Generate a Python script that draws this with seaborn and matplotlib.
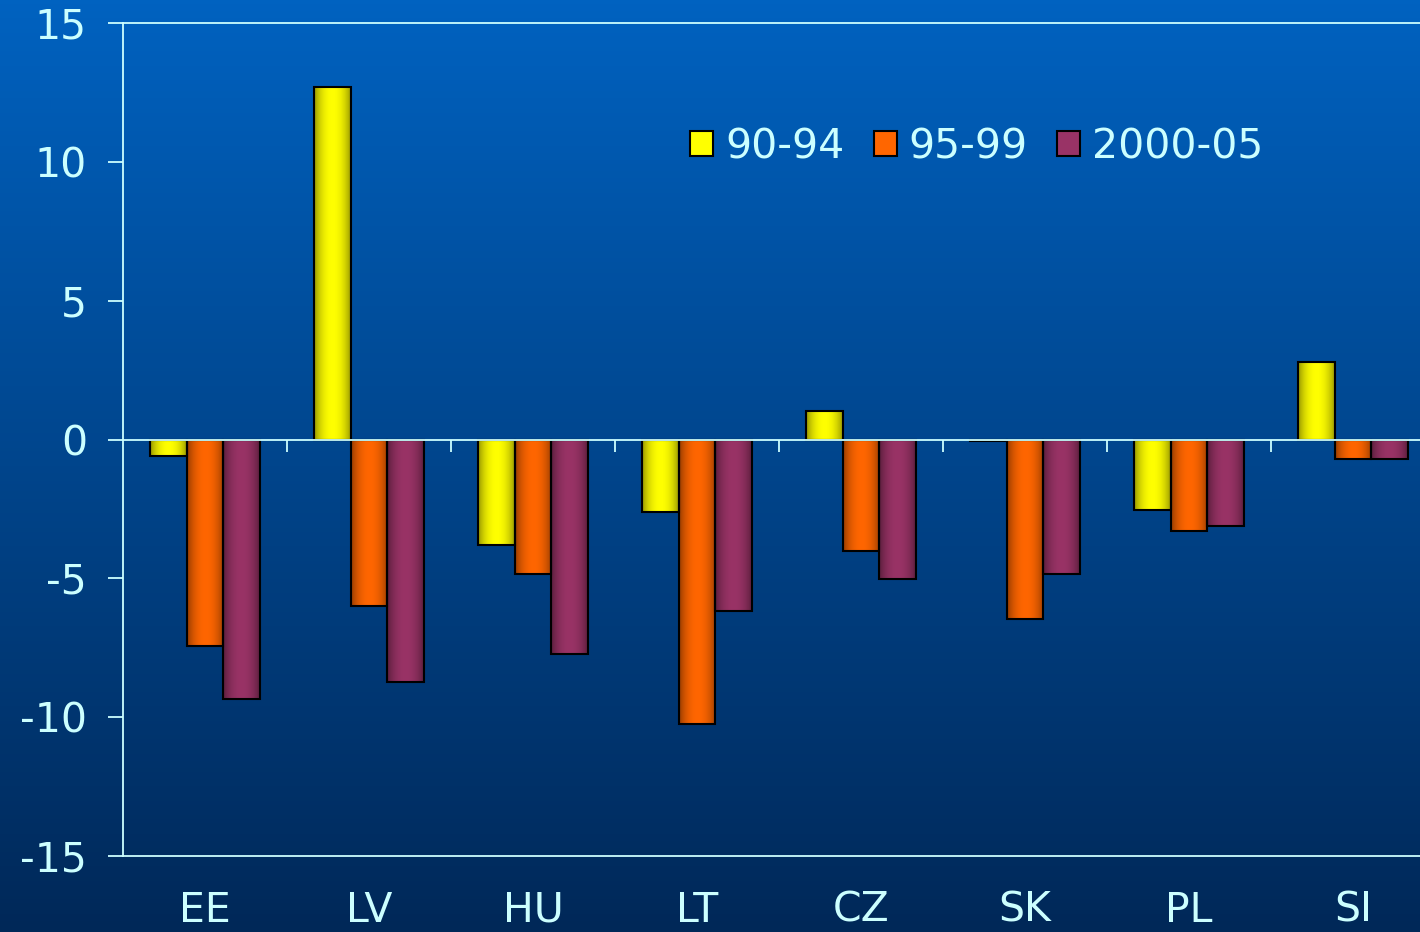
import numpy as np
import pandas as pd
import matplotlib
matplotlib.use("Agg")
import matplotlib.pyplot as plt
import seaborn as sns
from matplotlib.colors import to_rgb
from matplotlib.patches import Patch

# -----------------------------
# Data
# -----------------------------
countries = ["EE", "LV", "HU", "LT", "CZ", "SK", "PL", "SI"]
periods = ["90-94", "95-99", "2000-05"]
vals_90_94 = [-0.6, 12.7, -3.8, -2.6, 1.04, -0.05, -2.55, 2.8]
vals_95_99 = [-7.42, -5.98, -4.83, -10.23, -4.0, -6.48, -3.28, -0.72]
vals_2000_05 = [-9.36, -8.75, -7.71, -6.19, -5.04, -4.86, -3.13, -0.72]
yticks = [-15, -10, -5, 0, 5, 10, 15]

bar_colors = ["#ffff00", "#ff6600", "#993366"]
text_col = "#ccffff"

data = pd.DataFrame({
    "country": countries * 3,
    "period": [p for p in periods for _ in countries],
    "value": vals_90_94 + vals_95_99 + vals_2000_05,
})

# -----------------------------
# Figure
# -----------------------------
sns.set_style("white")
plt.rcParams["font.family"] = ["DejaVu Sans"]

fig = plt.figure(figsize=(14.2, 9.32), dpi=100)

# background gradient
bg = fig.add_axes([0, 0, 1, 1], zorder=-5)
top = np.array([0, 98, 192]) / 255
bot = np.array([0, 40, 88]) / 255
t = np.linspace(0, 1, 256)[:, None]
grad = top[None, None, :] * (1 - t[:, :, None]) + bot[None, None, :] * t[:, :, None]
bg.imshow(grad, aspect="auto", extent=[0, 1, 0, 1])
bg.set_axis_off()

ax = fig.add_axes([123 / 1420, 76 / 932, 1312 / 1420, 833 / 932])
ax.set_facecolor("none")

sns.barplot(data=data, x="country", y="value", hue="period",
            palette=bar_colors, width=0.67, edgecolor="black",
            linewidth=1.5, saturation=1, ax=ax, legend=False, zorder=3)

# cylinder-like shading on each bar
xs = np.linspace(0, 1, 64)
shade = 0.42 + 0.58 * np.clip(np.sin(np.pi * (xs * 0.95 + 0.02)), 0, 1) ** 0.55
for cont, col in zip(ax.containers, bar_colors):
    rgb = np.array(to_rgb(col))
    img = np.clip(shade[None, :, None] * rgb[None, None, :], 0, 1)
    for p in cont.patches:
        x0, y0 = p.get_x(), p.get_y()
        w, h = p.get_width(), p.get_height()
        im = ax.imshow(img, extent=[x0, x0 + w, min(y0, y0 + h), max(y0, y0 + h)],
                       aspect="auto", zorder=2, interpolation="bilinear")
        im.set_clip_path(p)
        p.set_facecolor("none")
ax.set_xlim(-0.5, len(countries) - 0.5)
ax.set_ylim(-15, 15)

# zero line with category separators
ax.axhline(0, color=text_col, lw=1.3, zorder=5)
ax.vlines(np.arange(0.5, len(countries) - 0.5), -0.45, 0,
          color=text_col, lw=1.3, zorder=5)

# axes styling
for s in ["left", "top", "bottom"]:
    ax.spines[s].set_color(text_col)
    ax.spines[s].set_linewidth(1.3)
ax.spines["right"].set_visible(False)

ax.set_yticks(yticks)
ax.set_yticklabels([str(v) for v in yticks])
ax.tick_params(axis="y", length=11, width=1.3, color=text_col,
               labelcolor=text_col, labelsize=29.5, pad=15, left=True)
ax.tick_params(axis="x", length=0, labelcolor=text_col, labelsize=29.5, pad=25)
ax.set_xlabel("")
ax.set_ylabel("")

# legend
handles = [Patch(facecolor=c, edgecolor="black", linewidth=1.5) for c in bar_colors]
leg = ax.legend(handles, periods, loc="center left", bbox_to_anchor=(0.42, 0.851),
                ncol=3, frameon=False, fontsize=29.5, handlelength=0.55,
                handleheight=0.55, handletextpad=0.3, columnspacing=0.72,
                borderaxespad=0)
for txt in leg.get_texts():
    txt.set_color(text_col)

fig.savefig("out.png", dpi=100)
